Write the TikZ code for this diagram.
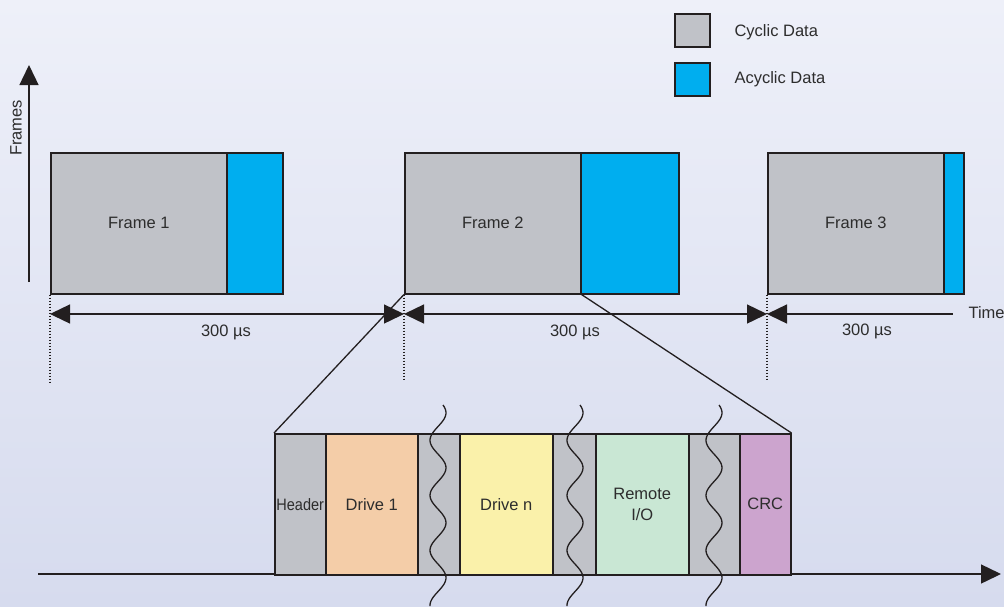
\documentclass[tikz,border=0pt]{standalone}
\usepackage{fontspec}
\setmainfont{Liberation Sans}
\usetikzlibrary{arrows.meta}
\definecolor{bgA}{RGB}{238,240,249}
\definecolor{bgB}{RGB}{214,219,238}
\definecolor{cyc}{RGB}{192,194,200}
\definecolor{acy}{RGB}{0,174,239}
\definecolor{drA}{RGB}{244,205,168}
\definecolor{drB}{RGB}{250,241,170}
\definecolor{rio}{RGB}{201,231,212}
\definecolor{crc}{RGB}{204,164,206}
\definecolor{ink}{RGB}{35,31,32}
\definecolor{txt}{RGB}{45,45,45}
\begin{document}
\begin{tikzpicture}[x=1pt,y=-1pt,
  every node/.style={font=\fontsize{16.5}{20}\selectfont, text=txt},
  box/.style={draw=ink, line width=1.5pt, inner sep=0pt, anchor=north west, align=center},
  dim/.style={draw=ink, line width=1.4pt, {Triangle[length=20pt,width=19pt]}-{Triangle[length=20pt,width=19pt]}},
  dimL/.style={draw=ink, line width=1.4pt, {Triangle[length=20pt,width=19pt]}-},
  axis/.style={draw=ink, line width=1.4pt, -{Triangle[length=20pt,width=19pt]}},
  dots/.style={draw=ink, line width=1.3pt, dash pattern=on 1.3pt off 1.7pt},
  link/.style={draw=ink, line width=1.3pt},
  wave/.style={draw=ink, line width=1.3pt}]
% background
\shade[top color=bgA, bottom color=bgB] (0,0) rectangle (1004,606);
\useasboundingbox (0,0) rectangle (1004,606);

% legend
\node[box, fill=cyc, minimum width=35pt, minimum height=33pt] (lc) at (674,13) {};
\node[box, fill=acy, minimum width=35pt, minimum height=33pt] (la) at (674,62) {};
\node[anchor=west] (lct) at (731,32) {Cyclic Data};
\node[anchor=west] (lat) at (731,79) {Acyclic Data};

% frames axis
\coordinate (ya0) at (29,282);
\coordinate (ya1) at (29,65);
\draw[axis] (ya0) -- (ya1);
\node[rotate=90] (yl) at (16,128) {Frames};

% frames
\node[box, fill=cyc, minimum width=176pt, minimum height=141pt] (f1c) at (50,152) {Frame 1};
\node[box, fill=acy, minimum width=56pt, minimum height=141pt] (f1a) at (226,152) {};
\node[box, fill=cyc, minimum width=176pt, minimum height=141pt] (f2c) at (404,152) {Frame 2};
\node[box, fill=acy, minimum width=98pt, minimum height=141pt] (f2a) at (580,152) {};
\node[box, fill=cyc, minimum width=176pt, minimum height=141pt] (f3c) at (767,152) {Frame 3};
\node[box, fill=acy, minimum width=20pt, minimum height=141pt] (f3a) at (943,152) {};

% dotted markers
\coordinate (d1) at (50,383);
\coordinate (d2) at (404,381);
\coordinate (d3) at (767,379);
\draw[dots] (f1c.south west) -- (d1);
\draw[dots] (f2c.south west) -- (d2);
\draw[dots] (f3c.south west) -- (d3);

% time intervals
\coordinate (t1) at (50,314);
\coordinate (t2) at (404,314);
\coordinate (t3) at (767,314);
\coordinate (t4) at (953,314);
\draw[dim] (t1) -- (t2);
\draw[dim] (t2) -- (t3);
\draw[dimL] (t3) -- (t4);
\node (l1) at (226,332) {300 µs};
\node (l2) at (575,332) {300 µs};
\node (l3) at (867,331) {300 µs};
\node[anchor=west] (tl) at (965,313) {Time};

% bottom time axis
\coordinate (b0) at (38,574);
\coordinate (b1) at (1001,574);
\draw[axis] (b0) -- (b1);

% frame content
\node[box, fill=cyc, minimum width=51pt, minimum height=141pt] (hd) at (274,433) {\scalebox{0.88}[1]{Header}};
\node[box, fill=drA, minimum width=92pt, minimum height=141pt] (dr1) at (325,433) {Drive 1};
\node[box, fill=cyc, minimum width=42pt, minimum height=141pt] (g1) at (417,433) {};
\node[box, fill=drB, minimum width=93pt, minimum height=141pt] (drn) at (459,433) {Drive n};
\node[box, fill=cyc, minimum width=43pt, minimum height=141pt] (g2) at (552,433) {};
\node[box, fill=rio, minimum width=93pt, minimum height=141pt] (rio) at (595,433) {\rule{0pt}{4pt}Remote\\[1.5pt]I/O};
\node[box, fill=cyc, minimum width=51pt, minimum height=141pt] (g3) at (688,433) {};
\node[box, fill=crc, minimum width=51pt, minimum height=141pt] (crc) at (739,433) {CRC};

% zoom links
\draw[link] (f2c.south west) -- (hd.north west);
\draw[link] (f2c.south east) -- (crc.north east);

% break marks
\draw[wave] plot[domain=0:201, samples=90, smooth] ({438+8*sin(\x*6.545+39)},{\x+405});
\draw[wave] plot[domain=0:201, samples=90, smooth] ({575+8*sin(\x*6.545+39)},{\x+405});
\draw[wave] plot[domain=0:201, samples=90, smooth] ({714+8*sin(\x*6.545+39)},{\x+405});
\end{tikzpicture}
\end{document}
